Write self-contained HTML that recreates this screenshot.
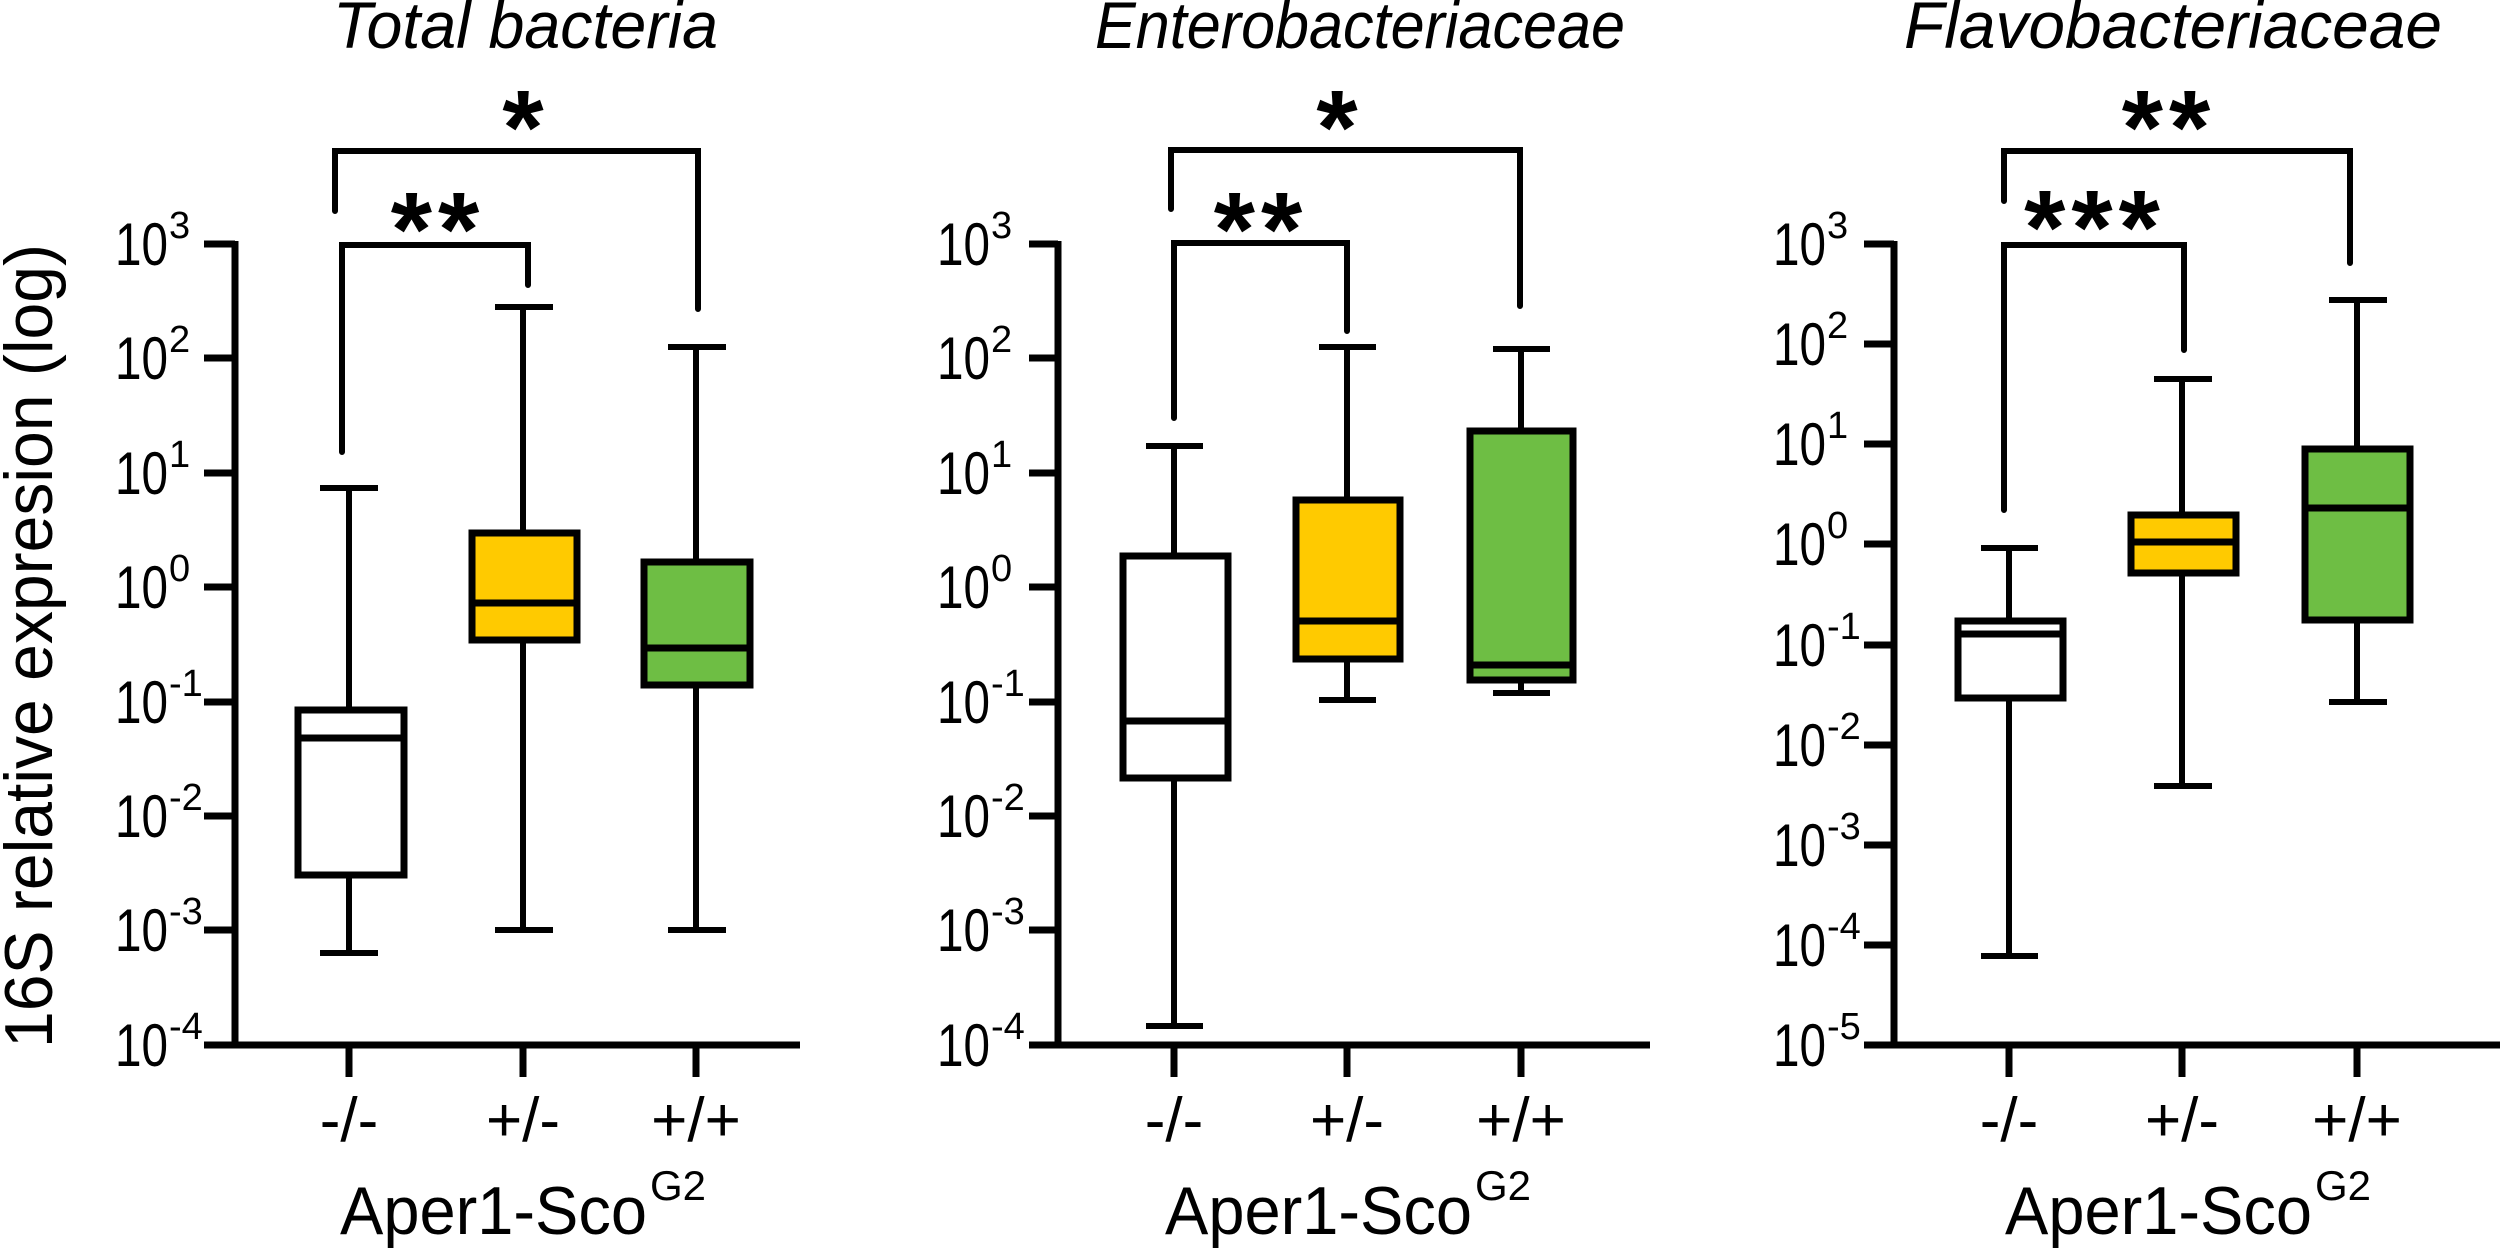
<!DOCTYPE html>
<html><head><meta charset="utf-8"><style>
html,body{margin:0;padding:0;background:#fff;}
svg{display:block;}
text{font-family:"Liberation Sans",Arial,sans-serif;fill:#000;}
.t{font-size:60px;}
.s{font-size:38px;}
.ttl{font-size:66px;font-style:italic;}
.cat{font-size:62px;}
.ax{font-size:68px;}
.st{font-size:106px;font-weight:bold;}
</style></head><body>
<svg width="2500" height="1248" viewBox="0 0 2500 1248" xmlns="http://www.w3.org/2000/svg">
<g stroke="#000" stroke-width="7" fill="none" stroke-linecap="butt">
<path d="M235 241 V1048 M232 1045 H800"/>
<path d="M204 244 H235 M204 358 H235 M204 473 H235 M204 587 H235 M204 702 H235 M204 816 H235 M204 930 H235 M204 1045 H235"/>
<path d="M349 1045 V1077 M523 1045 V1077 M696 1045 V1077"/>
<path d="M1058 241 V1048 M1055 1045 H1650"/>
<path d="M1029 244 H1058 M1029 358 H1058 M1029 473 H1058 M1029 587 H1058 M1029 702 H1058 M1029 816 H1058 M1029 930 H1058 M1029 1045 H1058"/>
<path d="M1174 1045 V1077 M1347 1045 V1077 M1521 1045 V1077"/>
<path d="M1894 241 V1048 M1891 1045 H2500"/>
<path d="M1864 244 H1894 M1864 344 H1894 M1864 444 H1894 M1864 544 H1894 M1864 645 H1894 M1864 745 H1894 M1864 845 H1894 M1864 945 H1894 M1864 1045 H1894"/>
<path d="M2009 1045 V1077 M2182 1045 V1077 M2357 1045 V1077"/>
</g>
<g stroke="#000" stroke-width="6">
<path d="M349 488 V710 M349 875 V953 M320 488 H378 M320 953 H378"/>
<path d="M523 307 V533 M523 640 V930 M495 307 H553 M495 930 H553"/>
<path d="M696 347 V562 M696 685 V930 M668 347 H726 M668 930 H726"/>
<path d="M1174 446 V556 M1174 778 V1026 M1146 446 H1203 M1146 1026 H1203"/>
<path d="M1347 347 V500 M1347 659 V700 M1319 347 H1376 M1319 700 H1376"/>
<path d="M1521 349 V431 M1521 680 V693 M1493 349 H1550 M1493 693 H1550"/>
<path d="M2009 548 V621 M2009 698 V956 M1981 548 H2038 M1981 956 H2038"/>
<path d="M2182 379 V515 M2182 573 V786 M2154 379 H2212 M2154 786 H2212"/>
<path d="M2357 300 V449 M2357 620 V702 M2329 300 H2387 M2329 702 H2387"/>
</g>
<g stroke="#000" stroke-width="7">
<rect x="298" y="710" width="106" height="165" fill="#fff"/>
<line x1="298" y1="738" x2="404" y2="738"/>
<rect x="472" y="533" width="105" height="107" fill="#FFCA00"/>
<line x1="472" y1="603" x2="577" y2="603"/>
<rect x="644" y="562" width="106" height="123" fill="#6ebe44"/>
<line x1="644" y1="648" x2="750" y2="648"/>
<rect x="1123" y="556" width="105" height="222" fill="#fff"/>
<line x1="1123" y1="721" x2="1228" y2="721"/>
<rect x="1296" y="500" width="104" height="159" fill="#FFCA00"/>
<line x1="1296" y1="621" x2="1400" y2="621"/>
<rect x="1470" y="431" width="103" height="249" fill="#6ebe44"/>
<line x1="1470" y1="665" x2="1573" y2="665"/>
<rect x="1958" y="621" width="105" height="77" fill="#fff"/>
<line x1="1958" y1="634" x2="2063" y2="634"/>
<rect x="2131" y="515" width="105" height="58" fill="#FFCA00"/>
<line x1="2131" y1="542" x2="2236" y2="542"/>
<rect x="2305" y="449" width="105" height="171" fill="#6ebe44"/>
<line x1="2305" y1="508" x2="2410" y2="508"/>
</g>
<g stroke="#000" stroke-width="6" fill="none" stroke-linecap="round">
<path d="M342 452 V245 H528 V285"/>
<path d="M335 211 V151 H698 V309"/>
<path d="M1174 418 V243 H1347 V331"/>
<path d="M1171 209 V150 H1520 V306"/>
<path d="M2004 510 V245 H2184 V350"/>
<path d="M2004 201 V151 H2350 V263"/>
</g>
<text class="st" x="438" y="266" text-anchor="middle" letter-spacing="6">**</text>
<text class="st" x="523" y="164" text-anchor="middle">*</text>
<text class="st" x="1261" y="266" text-anchor="middle" letter-spacing="6">**</text>
<text class="st" x="1337" y="164" text-anchor="middle">*</text>
<text class="st" x="2095" y="264" text-anchor="middle" letter-spacing="6">***</text>
<text class="st" x="2169" y="164" text-anchor="middle" letter-spacing="6">**</text>
<text class="ttl" x="333" y="48" textLength="385" lengthAdjust="spacingAndGlyphs">Total bacteria</text>
<text class="ttl" x="1095" y="48" textLength="530" lengthAdjust="spacingAndGlyphs">Enterobacteriaceae</text>
<text class="ttl" x="1904" y="48" textLength="538" lengthAdjust="spacingAndGlyphs">Flavobacteriaceae</text>
<text class="ax" transform="translate(52,646) rotate(-90)" text-anchor="middle" textLength="804" lengthAdjust="spacingAndGlyphs">16S relative expresion (log)</text>
<g class="t">
<text x="115" y="265" textLength="53" lengthAdjust="spacingAndGlyphs">10</text><text class="s" x="169" y="238">3</text>
<text x="115" y="379" textLength="53" lengthAdjust="spacingAndGlyphs">10</text><text class="s" x="169" y="352">2</text>
<text x="115" y="494" textLength="53" lengthAdjust="spacingAndGlyphs">10</text><text class="s" x="169" y="467">1</text>
<text x="115" y="608" textLength="53" lengthAdjust="spacingAndGlyphs">10</text><text class="s" x="169" y="581">0</text>
<text x="115" y="723" textLength="53" lengthAdjust="spacingAndGlyphs">10</text><text class="s" x="169" y="696">-1</text>
<text x="115" y="837" textLength="53" lengthAdjust="spacingAndGlyphs">10</text><text class="s" x="169" y="810">-2</text>
<text x="115" y="951" textLength="53" lengthAdjust="spacingAndGlyphs">10</text><text class="s" x="169" y="924">-3</text>
<text x="115" y="1066" textLength="53" lengthAdjust="spacingAndGlyphs">10</text><text class="s" x="169" y="1039">-4</text>
</g>
<g class="t">
<text x="937" y="265" textLength="53" lengthAdjust="spacingAndGlyphs">10</text><text class="s" x="991" y="238">3</text>
<text x="937" y="379" textLength="53" lengthAdjust="spacingAndGlyphs">10</text><text class="s" x="991" y="352">2</text>
<text x="937" y="494" textLength="53" lengthAdjust="spacingAndGlyphs">10</text><text class="s" x="991" y="467">1</text>
<text x="937" y="608" textLength="53" lengthAdjust="spacingAndGlyphs">10</text><text class="s" x="991" y="581">0</text>
<text x="937" y="723" textLength="53" lengthAdjust="spacingAndGlyphs">10</text><text class="s" x="991" y="696">-1</text>
<text x="937" y="837" textLength="53" lengthAdjust="spacingAndGlyphs">10</text><text class="s" x="991" y="810">-2</text>
<text x="937" y="951" textLength="53" lengthAdjust="spacingAndGlyphs">10</text><text class="s" x="991" y="924">-3</text>
<text x="937" y="1066" textLength="53" lengthAdjust="spacingAndGlyphs">10</text><text class="s" x="991" y="1039">-4</text>
</g>
<g class="t">
<text x="1773" y="265" textLength="53" lengthAdjust="spacingAndGlyphs">10</text><text class="s" x="1827" y="238">3</text>
<text x="1773" y="365" textLength="53" lengthAdjust="spacingAndGlyphs">10</text><text class="s" x="1827" y="338">2</text>
<text x="1773" y="465" textLength="53" lengthAdjust="spacingAndGlyphs">10</text><text class="s" x="1827" y="438">1</text>
<text x="1773" y="565" textLength="53" lengthAdjust="spacingAndGlyphs">10</text><text class="s" x="1827" y="538">0</text>
<text x="1773" y="666" textLength="53" lengthAdjust="spacingAndGlyphs">10</text><text class="s" x="1827" y="639">-1</text>
<text x="1773" y="766" textLength="53" lengthAdjust="spacingAndGlyphs">10</text><text class="s" x="1827" y="739">-2</text>
<text x="1773" y="866" textLength="53" lengthAdjust="spacingAndGlyphs">10</text><text class="s" x="1827" y="839">-3</text>
<text x="1773" y="966" textLength="53" lengthAdjust="spacingAndGlyphs">10</text><text class="s" x="1827" y="939">-4</text>
<text x="1773" y="1066" textLength="53" lengthAdjust="spacingAndGlyphs">10</text><text class="s" x="1827" y="1039">-5</text>
</g>
<g class="cat" text-anchor="middle">
<text x="349" y="1141">-/-</text><text x="523" y="1141">+/-</text><text x="696" y="1141">+/+</text>
<text x="1174" y="1141">-/-</text><text x="1347" y="1141">+/-</text><text x="1521" y="1141">+/+</text>
<text x="2009" y="1141">-/-</text><text x="2182" y="1141">+/-</text><text x="2357" y="1141">+/+</text>
</g>
<g class="ax">
<text x="340" y="1234" textLength="307" lengthAdjust="spacingAndGlyphs">Aper1-Sco</text><text x="650" y="1200" style="font-size:42px">G2</text>
<text x="1165" y="1234" textLength="307" lengthAdjust="spacingAndGlyphs">Aper1-Sco</text><text x="1475" y="1200" style="font-size:42px">G2</text>
<text x="2005" y="1234" textLength="307" lengthAdjust="spacingAndGlyphs">Aper1-Sco</text><text x="2315" y="1200" style="font-size:42px">G2</text>
</g>
</svg>
</body></html>
